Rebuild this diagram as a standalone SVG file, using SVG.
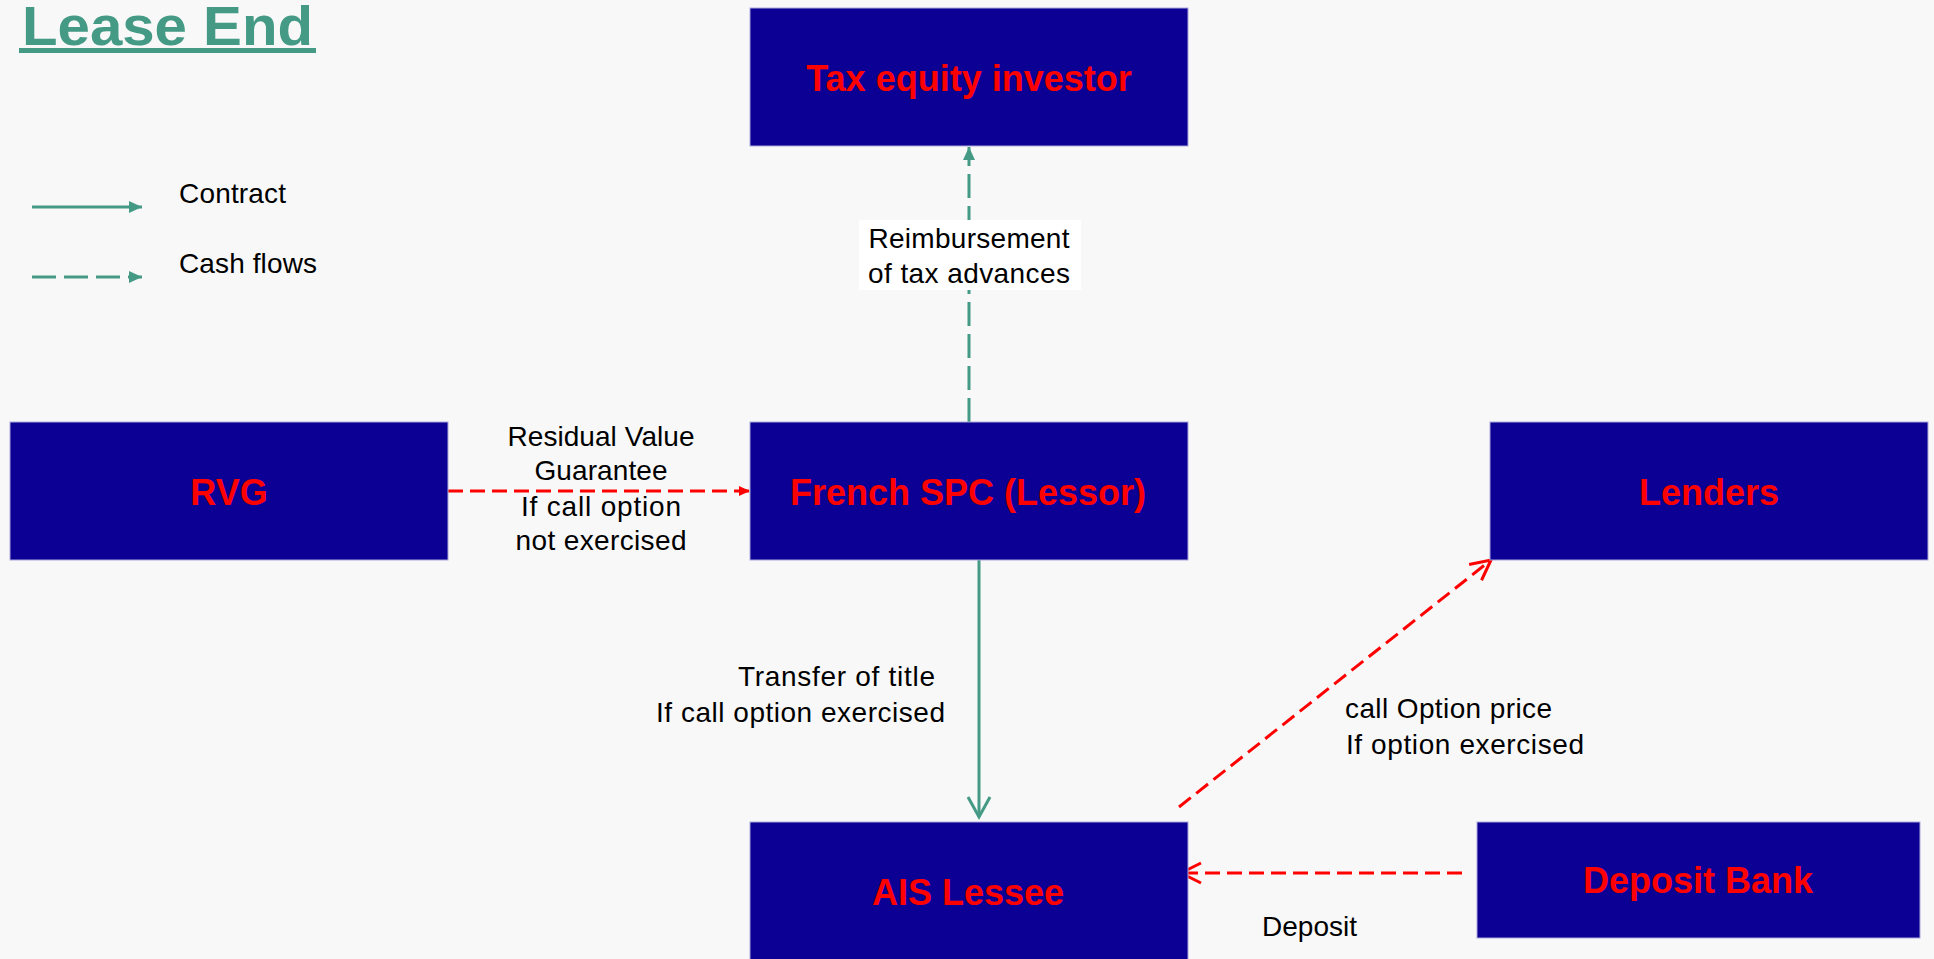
<svg xmlns="http://www.w3.org/2000/svg" width="1934" height="959" viewBox="0 0 1934 959">
<defs>
<style>
.box{fill:#0c0094;stroke:#aaa6dc;stroke-width:1}
.bl{font-family:"Liberation Sans",Arial,sans-serif;font-weight:bold;font-size:36px;fill:#ff0000;text-anchor:middle}
.lb{font-family:"Liberation Sans",Arial,sans-serif;font-size:28px;fill:#000000}
.mid{text-anchor:middle}
.teal{stroke:#459a86;stroke-width:3;fill:none}
.tdash{stroke-dasharray:24 8}
.red{stroke:#ff0000;stroke-width:3;fill:none;stroke-dasharray:15 7}
</style>
<marker id="tf" markerUnits="userSpaceOnUse" markerWidth="16" markerHeight="14" refX="13" refY="6" orient="auto" overflow="visible"><path d="M0,0 L13,6 L0,12 z" fill="#459a86"/></marker>
<marker id="to" markerUnits="userSpaceOnUse" markerWidth="24" markerHeight="26" refX="20" refY="11" orient="auto" overflow="visible"><path d="M0,0 L20,11 L0,22" fill="none" stroke="#459a86" stroke-width="3"/></marker>
<marker id="rf" markerUnits="userSpaceOnUse" markerWidth="14" markerHeight="12" refX="11" refY="5" orient="auto" overflow="visible"><path d="M0,0 L11,5 L0,10 z" fill="#ff0000"/></marker>
<marker id="ro" markerUnits="userSpaceOnUse" markerWidth="24" markerHeight="24" refX="20" refY="10" orient="auto" overflow="visible"><path d="M0,0 L20,10 L0,20" fill="none" stroke="#ff0000" stroke-width="3"/></marker>
</defs>
<rect x="0" y="0" width="1934" height="959" fill="#f8f8f8"/>

<g id="title">
<text x="22" y="45" font-family="'Liberation Sans',Arial,sans-serif" font-weight="bold" font-size="56" fill="#449a84" textLength="291" lengthAdjust="spacingAndGlyphs">Lease End</text>
<rect x="19" y="48" width="297" height="5" fill="#449a84"/>
</g>

<g id="legend">
<line class="teal" x1="32" y1="207" x2="142" y2="207" marker-end="url(#tf)"/>
<text class="lb" x="179" y="203" textLength="107">Contract</text>
<line class="teal tdash" x1="32" y1="277" x2="142" y2="277" marker-end="url(#tf)"/>
<text class="lb" x="179" y="273" textLength="138">Cash flows</text>
</g>

<g id="connectors">
<line class="teal tdash" x1="969" y1="422" x2="969" y2="147" marker-end="url(#tf)"/>
<line class="teal" x1="979" y1="558" x2="979" y2="817" marker-end="url(#to)"/>
<line class="red" x1="448" y1="491" x2="750" y2="491" marker-end="url(#rf)"/>
<line class="red" x1="1179" y1="807" x2="1491" y2="560" marker-end="url(#ro)"/>
<line class="red" x1="1462" y1="873" x2="1181" y2="873" marker-end="url(#ro)"/>
</g>

<g id="labels">
<rect x="859" y="220" width="222" height="70" fill="#ffffff"/>
<text class="lb mid" x="969" y="248" textLength="201">Reimbursement</text>
<text class="lb mid" x="969" y="283" textLength="202">of tax advances</text>
<text class="lb mid" x="601" y="446" textLength="187">Residual Value</text>
<text class="lb mid" x="601" y="480" textLength="133">Guarantee</text>
<text class="lb mid" x="601" y="516" textLength="160">If call option</text>
<text class="lb mid" x="601" y="550" textLength="171">not exercised</text>
<text class="lb" x="738" y="686" textLength="197">Transfer of title</text>
<text class="lb" x="656" y="722" textLength="289">If call option exercised</text>
<text class="lb" x="1345" y="718" textLength="207">call Option price</text>
<text class="lb" x="1346" y="754" textLength="238">If option exercised</text>
<text class="lb" x="1262" y="936" textLength="95">Deposit</text>
</g>

<g id="tax-equity-investor">
<rect class="box" x="750" y="8" width="438" height="138"/>
<text class="bl" x="969" y="91">Tax equity investor</text>
</g>
<g id="french-spc">
<rect class="box" x="750" y="422" width="438" height="138"/>
<text class="bl" x="968" y="505">French SPC (Lessor)</text>
</g>
<g id="rvg">
<rect class="box" x="10" y="422" width="438" height="138"/>
<text class="bl" x="229" y="505">RVG</text>
</g>
<g id="lenders">
<rect class="box" x="1490" y="422" width="438" height="138"/>
<text class="bl" x="1709" y="505">Lenders</text>
</g>
<g id="ais-lessee">
<rect class="box" x="750" y="822" width="438" height="150"/>
<text class="bl" x="968" y="905">AIS Lessee</text>
</g>
<g id="deposit-bank">
<rect class="box" x="1477" y="822" width="443" height="116"/>
<text class="bl" x="1698" y="893">Deposit Bank</text>
</g>
</svg>
